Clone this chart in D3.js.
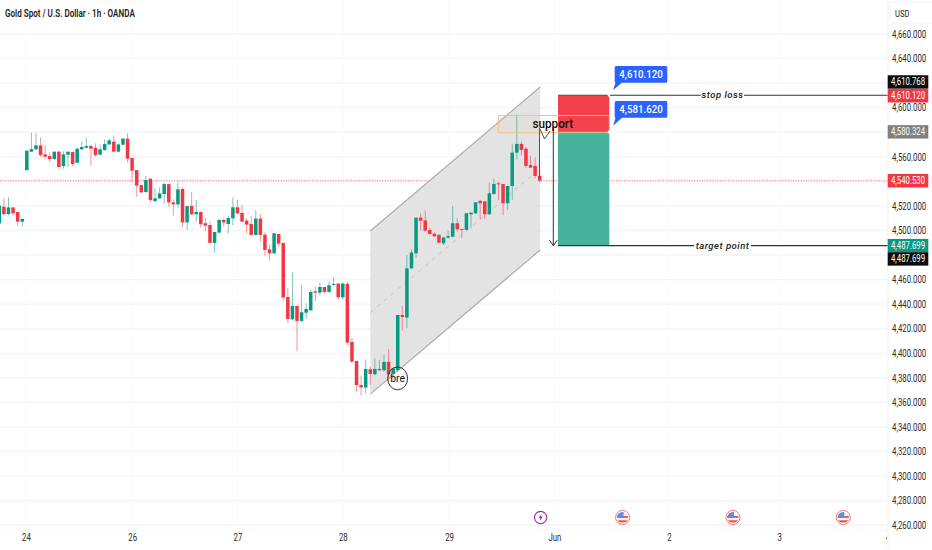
<!DOCTYPE html>
<html><head><meta charset="utf-8">
<script src="https://cdn.jsdelivr.net/npm/d3@7/dist/d3.min.js"></script>
<style>html,body{margin:0;padding:0;background:#fff}svg{display:block}text{font-family:"Roboto",sans-serif}</style>
</head><body><svg id="c" width="932" height="550"></svg>
<script>
const opens=[4505.8,4519.4,4513.4,4518.8,4515.1,4507.2,4549.2,4564.2,4566.1,4569.3,
4562,4560.6,4558.2,4564.2,4552.5,4561.7,4563.9,4555.2,4566.1,4567.4,
4568.8,4567.4,4561.7,4565.5,4570.1,4572.3,4564.2,4569.9,4574.8,4559,
4549.2,4537,4531.3,4542.2,4524,4526.2,4529.7,4537.8,4522.9,4521.3,
4533.8,4506.6,4520,4513.2,4515.1,4505.9,4504.5,4489.9,4498.3,4508.6,
4505.3,4509.9,4518.9,4514.3,4508,4505.3,4496.4,4509.7,4496.6,4484.7,
4481.4,4497.2,4489.9,4445.9,4427.7,4438.6,4426.4,4433.1,4435,4450.5,
4449.4,4454,4450,4455.7,4456.8,4445.6,4456.5,4409.3,4393.8,4374.2,
4372.1,4387,4382.9,4387.3,4386.2,4393,4383.2,4386.4,4431.2,4429.1,
4469.2,4481.4,4510.5,4508.3,4500.4,4497.4,4496.4,4489.6,4494.2,4495,
4505.9,4501.3,4500.5,4513.2,4514,4524.1,4523.8,4513.2,4529.8,4538.4,
4537.9,4522.2,4536.3,4563.4,4570.5,4566.7,4553.4,4552.6,4544.4];
const closes=[4520.2,4513.4,4518.8,4514,4507.2,4509.4,4565,4566.3,4569.3,4561.5,
4560.1,4558.2,4564.2,4551.7,4562,4564.2,4554.1,4566.6,4568,4568.8,
4566.6,4561.5,4566.1,4570.4,4573.4,4564.2,4570.1,4574.8,4558.5,4548.7,
4536.5,4531.1,4541.1,4524.8,4526.2,4530.2,4537.8,4522.9,4521.3,4533.5,
4506.6,4519.9,4513.2,4515.1,4505.1,4504,4489.9,4498.8,4508.6,4506.7,
4510.2,4518.9,4514,4507.2,4504.8,4496.4,4509.7,4496.4,4484.2,4481.4,
4497.7,4489.3,4445.4,4428,4438.6,4426.4,4433.4,4436.1,4450,4449.4,
4454,4450,4455.4,4456.5,4445.6,4456.8,4408.7,4393.2,4374.2,4372.3,
4387.3,4383.2,4387.3,4386.2,4393,4382.9,4387.8,4431.2,4429.6,4469.2,
4482,4510.5,4508,4499.9,4497.2,4495.3,4490.1,4494.2,4495.5,4505.9,
4501,4500.5,4514,4514.6,4523,4522.2,4513.2,4530.3,4537.9,4537.6,
4522.2,4536.3,4563.4,4570.5,4565.6,4552.6,4551.2,4544.4,4540.5];
const highs=[4521.3,4526.2,4527,4518.8,4515.1,4509.4,4565,4579.6,4579.1,4575.8,
4569.3,4563.6,4564.2,4565,4564.4,4564.2,4563.9,4567.4,4572.6,4575.8,
4569.6,4571,4569.9,4574.2,4574.5,4577.5,4571,4575.3,4579.1,4559,
4549.2,4537,4544.4,4542.2,4534.3,4535.1,4538.9,4537.8,4525.4,4540,
4535.1,4519.9,4531.4,4524.9,4515.1,4510.2,4507.2,4498.8,4509.1,4509.9,
4511.8,4527,4524.9,4520.8,4509.9,4511.8,4516.7,4513.5,4498.5,4488.2,
4497.7,4497.2,4489.9,4453,4466,4438.6,4455.4,4440.7,4451.6,4454.3,
4457.8,4454,4458.4,4461.9,4456.8,4457.6,4458.4,4412.2,4393.8,4381.6,
4395.1,4389.2,4395.9,4394.6,4398.7,4403.5,4387.8,4431.2,4438.6,4480.1,
4484.7,4510.5,4514,4516.2,4502.3,4498.3,4497.2,4495,4499.9,4520,
4509.9,4501.3,4514,4514.6,4523,4524.9,4523.8,4539,4542.3,4539.8,
4537.9,4536.3,4570.2,4594.4,4572.4,4567.8,4560.7,4559.6,4549.3];
const lows=[4499,4512.3,4512.3,4512.1,4503.7,4503.1,4548.7,4564.2,4565.5,4560.1,
4558.2,4555.8,4557.4,4551.4,4550.3,4552,4552.5,4554.7,4566.1,4567.4,
4552.8,4560.1,4561.7,4565,4569.6,4563.4,4563.6,4569.3,4555.5,4539.5,
4527.5,4530.2,4530.8,4522.9,4522.9,4525.6,4521.6,4519.4,4512.1,4518.8,
4503.1,4500.4,4512.7,4507.2,4502.3,4499.4,4489.9,4482,4497.7,4503.2,
4497.7,4504.2,4513.2,4506.7,4497.7,4495.8,4495.8,4490.9,4479.5,4475.5,
4480.9,4486.9,4442.9,4424.5,4427.2,4401.4,4425.5,4427.7,4434.5,4442.1,
4447.3,4448.6,4449.4,4455.1,4443.5,4443.5,4406.8,4392.4,4368.8,4365.6,
4367.5,4374.2,4382.4,4385.6,4385.1,4376.9,4378.3,4385.1,4418.5,4420.4,
4468.7,4477.9,4499.9,4499.1,4496.4,4494.7,4489.6,4488.2,4493.6,4494.5,
4499.1,4493.7,4499.9,4501.8,4513.5,4509.4,4509.4,4512.7,4529.2,4524.9,
4512.4,4516.7,4524.9,4558,4561.2,4550.9,4550.7,4542.5,4539.5];

const priceTicks=d3.range(4260,4661,20);
const hiddenTicks=[4620,4580,4540,4480];
const dayLabels=["24","26","27","28","29","Jun","2","3","4"];
const dayIndex=[5.8,29,52,75,98.2,121.2,146.2,170.3,194];
const lastPrice=4540.53, stopPrice=4610.12, entryPrice=4580.324, targetPrice=4487.699;
const stopBlack=4610.768, entryQuote=4581.62;
const channelIdx=[81,118.1];
const channelUpper=[4499.6,4616.9], channelLower=[4366.8,4484.1];
const positionIdx=[122,133.2];
const eventIdx=[118.2,136.1,160.2,184.3];

const svg=d3.select("#c");
const W=888,H=530;
const x=d3.scaleLinear().domain([0,118]).range([-0.67,539.7]);
const y=d3.scaleLinear().domain([4280,4600]).range([500.7,107.7]);
const red="#f23645",green="#089981",blue="#2962ff";
const fmt=d3.format(",.3f");
// squeeze text horizontally, the reference uses a narrow UI face
function condense(sel,f){sel.each(function(){const px=+this.getAttribute("x")||0;this.setAttribute("x",0);this.setAttribute("transform",`translate(${px},0) scale(${f},1)`);});}
const defs=svg.append("defs");
defs.append("clipPath").attr("id","pane").append("rect").attr("width",W).attr("height",H);
defs.append("marker").attr("id","ah").attr("markerUnits","userSpaceOnUse").attr("markerWidth",10).attr("markerHeight",8)
 .attr("refX",5).attr("refY",6.5).attr("orient",0).append("path").attr("d","M1,1L5,6.5L9,1").attr("fill","none").attr("stroke","#333");

const pane=svg.append("g").attr("clip-path","url(#pane)");
pane.selectAll("line.h").data(priceTicks).join("line").attr("class","h")
 .attr("x1",0).attr("x2",W).attr("y1",d=>y(d)).attr("y2",d=>y(d)).attr("stroke","#f4f4f4").attr("stroke-width",1.3);
pane.selectAll("line.v").data(dayIndex).join("line").attr("class","v")
 .attr("x1",d=>x(d)).attr("x2",d=>x(d)).attr("y1",0).attr("y2",H).attr("stroke","#fafafa");
pane.append("line").attr("x1",0).attr("x2",W).attr("y1",y(lastPrice)).attr("y2",y(lastPrice))
 .attr("stroke",red).attr("stroke-dasharray","1 1.6").attr("opacity",.75);
const cx=channelIdx.map(x);
pane.append("path").attr("d",`M${cx[0]},${y(channelUpper[0])}L${cx[1]},${y(channelUpper[1])}L${cx[1]},${y(channelLower[1])}L${cx[0]},${y(channelLower[0])}Z`)
 .attr("fill","#e3e3e3");
[channelUpper,channelLower].forEach(c=>pane.append("line").attr("x1",cx[0]).attr("x2",cx[1]).attr("y1",y(c[0])).attr("y2",y(c[1])).attr("stroke","#ababab").attr("stroke-width",1.2));
pane.append("line").attr("x1",cx[0]).attr("x2",cx[1]).attr("y1",y((channelUpper[0]+channelLower[0])/2)).attr("y2",y((channelUpper[1]+channelLower[1])/2))
 .attr("stroke","#c2c2c2").attr("stroke-dasharray","4 5");
const idx=d3.range(opens.length);
const col=i=>closes[i]>=opens[i]?green:red;
pane.selectAll("line.w").data(idx).join("line").attr("class","w")
 .attr("x1",i=>x(i)).attr("x2",i=>x(i)).attr("y1",i=>y(highs[i])).attr("y2",i=>y(lows[i]))
 .attr("stroke",col).attr("stroke-opacity",.6).attr("stroke-width",.9);
pane.selectAll("rect.b").data(idx).join("rect").attr("class","b")
 .attr("x",i=>x(i)-1.75).attr("width",3.5)
 .attr("y",i=>y(Math.max(opens[i],closes[i])))
 .attr("height",i=>Math.max(1,Math.abs(y(opens[i])-y(closes[i])))).attr("fill",col);
const px=positionIdx.map(x);
pane.append("rect").attr("x",px[0]).attr("width",px[1]-px[0]).attr("y",y(stopPrice)).attr("height",y(entryPrice)-y(stopPrice)).attr("fill",red).attr("opacity",.96);
pane.append("rect").attr("x",px[0]).attr("width",px[1]-px[0]).attr("y",y(entryPrice)).attr("height",y(targetPrice)-y(entryPrice)).attr("fill","#45b29d");
pane.append("line").attr("x1",px[0]).attr("x2",px[1]).attr("y1",y(stopPrice)).attr("y2",y(stopPrice)).attr("stroke","#7a3a3a").attr("stroke-width",1.2);
pane.append("rect").attr("x",498.3).attr("width",px[1]-498.3).attr("y",y(4593.7)).attr("height",y(4579.6)-y(4593.7))
 .attr("fill","#f5b44a").attr("fill-opacity",.05).attr("stroke","#f2bf72").attr("stroke-width",.9);
[stopPrice,entryPrice].forEach(p=>pane.append("circle").attr("cx",px[1]).attr("cy",y(p)).attr("r",1.6).attr("fill","#fff"));
pane.append("line").attr("x1",553.3).attr("x2",553.3).attr("y1",128).attr("y2",y(targetPrice)).attr("stroke","#333").attr("marker-end","url(#ah)");
pane.append("line").attr("x1",539.5).attr("x2",539.5).attr("y1",128).attr("y2",178).attr("stroke","#555");
pane.append("path").attr("d","M540,129L544.5,139L550,131").attr("fill","none").attr("stroke","#444").attr("stroke-width",.9);
pane.append("text").attr("x",552.8).attr("y",127.8).attr("text-anchor","middle").attr("font-size",13).style("font-weight",500).attr("fill","#111").text("support").call(condense,.9);
function levelLine(p,x0,gap0,gap1,label,tx){
 pane.append("line").attr("x1",x0).attr("x2",gap0).attr("y1",y(p)).attr("y2",y(p)).attr("stroke","#333").attr("stroke-width",1.1);
 pane.append("line").attr("x1",gap1).attr("x2",W).attr("y1",y(p)).attr("y2",y(p)).attr("stroke","#333").attr("stroke-width",1.1);
 pane.append("text").attr("x",tx).attr("y",y(p)+3.2).attr("text-anchor","middle").attr("font-size",9.5)
  .style("font-style","italic").style("font-weight",500).attr("letter-spacing",.5).attr("fill","#222").text(label);
}
levelLine(stopPrice,610,700.7,744,"stop loss",722.5);
levelLine(targetPrice,px[0],694,751,"target point",722.5);
function bubble(x0,y0,tipY,v){
 const g=svg.append("g");
 g.append("path").attr("d",`M${x0+1},${y0+16}L${x0-1.5},${tipY}L${x0+8},${y0+16}Z`).attr("fill",blue);
 g.append("rect").attr("x",x0).attr("y",y0).attr("width",52.6).attr("height",16.7).attr("rx",1.5).attr("fill",blue);
 g.append("text").attr("x",x0+26.3).attr("y",y0+11.8).attr("text-anchor","middle").attr("font-size",10).style("font-weight",500).attr("fill","#fff").text(fmt(v)).call(condense,.97);
}
bubble(614.7,66,90,stopPrice);
bubble(614.7,101,125.7,entryQuote);
pane.append("ellipse").attr("cx",397.6).attr("cy",378.4).attr("rx",10).attr("ry",11.4).attr("fill","none").attr("stroke","#333").attr("stroke-width",1);
pane.append("text").attr("x",397.6).attr("y",382).attr("text-anchor","middle").attr("font-size",10.5).attr("fill","#111").text("bre");
const evY=517.5;
const bolt=svg.append("g").attr("transform",`translate(${x(eventIdx[0])},${evY})`);
bolt.append("circle").attr("r",6.1).attr("fill","#fff").attr("stroke","#9c27b0").attr("stroke-width",1.1);
bolt.append("path").attr("d","M1.2,-3.8L-2,0.6L-0.2,0.6L-1,3.8L2.1,-0.8L0.2,-0.8Z").attr("fill","#9c27b0");
eventIdx.slice(1).forEach((e,k)=>{
 const g=svg.append("g").attr("transform",`translate(${x(e)},${evY})`);
 const id="fl"+k;
 defs.append("clipPath").attr("id",id).append("circle").attr("r",5.6);
 g.append("circle").attr("r",7).attr("fill","#fff").attr("stroke","#f4736d").attr("stroke-width",1);
 const f=g.append("g").attr("clip-path",`url(#${id})`);
 f.append("rect").attr("x",-6).attr("y",-6).attr("width",12).attr("height",12).attr("fill","#f3f3f3");
 f.append("rect").attr("x",-6).attr("y",-1.5).attr("width",12).attr("height",1.8).attr("fill","#e8534f");
 f.append("rect").attr("x",-6).attr("y",2.8).attr("width",12).attr("height",2.2).attr("fill","#e8534f");
 f.append("rect").attr("x",-6).attr("y",-6).attr("width",7).attr("height",6.5).attr("fill","#5b8fdc");
});
svg.append("line").attr("x1",W).attr("x2",W).attr("y1",0).attr("y2",550).attr("stroke","#f2f2f2");
svg.append("line").attr("x1",0).attr("x2",W).attr("y1",H).attr("y2",H).attr("stroke","#f6f6f6");
svg.append("rect").attr("x",890).attr("y",2).attr("width",50).attr("height",21).attr("rx",3).attr("fill","none").attr("stroke","#f3f3f3");
svg.append("text").attr("x",895).attr("y",17).attr("font-size",9.5).attr("fill","#222").text("USD").call(condense,.8);
const ay=svg.append("g").attr("transform",`translate(${W},0)`)
 .call(d3.axisRight(y).tickValues(priceTicks.filter(t=>!hiddenTicks.includes(t))).tickSize(0).tickPadding(4).tickFormat(fmt));
ay.select(".domain").remove();
ay.selectAll("text").attr("font-size",10).attr("fill","#2a2a2a").call(condense,.78);
svg.append("clipPath").attr("id","xc").append("rect").attr("width",887).attr("height",550);
const ax=svg.append("g").attr("clip-path","url(#xc)").append("g").attr("transform",`translate(0,${H})`)
 .call(d3.axisBottom(x).tickValues(dayIndex).tickSize(0).tickPadding(4).tickFormat((d,i)=>dayLabels[i]));
ax.select(".domain").remove();
ax.selectAll("text").attr("font-size",10).attr("fill","#2a2a2a").attr("dy","0.71em").call(condense,.78);
function tag(yc,bg,v){
 svg.append("rect").attr("x",887.7).attr("y",yc-6.7).attr("width",40.6).attr("height",13.4).attr("fill",bg);
 svg.append("text").attr("x",908).attr("y",yc+3.5).attr("text-anchor","middle").attr("font-size",10).attr("fill","#fff").text(fmt(v)).call(condense,.78);
}
tag(y(stopPrice)-13.3,"#0b0b0b",stopBlack);
tag(y(stopPrice)+.5,red,stopPrice);
tag(y(entryPrice),"#808080",entryPrice);
tag(y(lastPrice),red,lastPrice);
tag(y(targetPrice),green,targetPrice);
tag(y(targetPrice)+13.3,"#0b0b0b",targetPrice);
const title=svg.append("text").attr("x",5).attr("y",17).attr("font-size",10.5).style("font-weight",600).attr("fill","#222").text("Gold Spot / U.S. Dollar · 1h · OANDA");
title.call(condense,130/title.node().getComputedTextLength());
</script></body></html>
